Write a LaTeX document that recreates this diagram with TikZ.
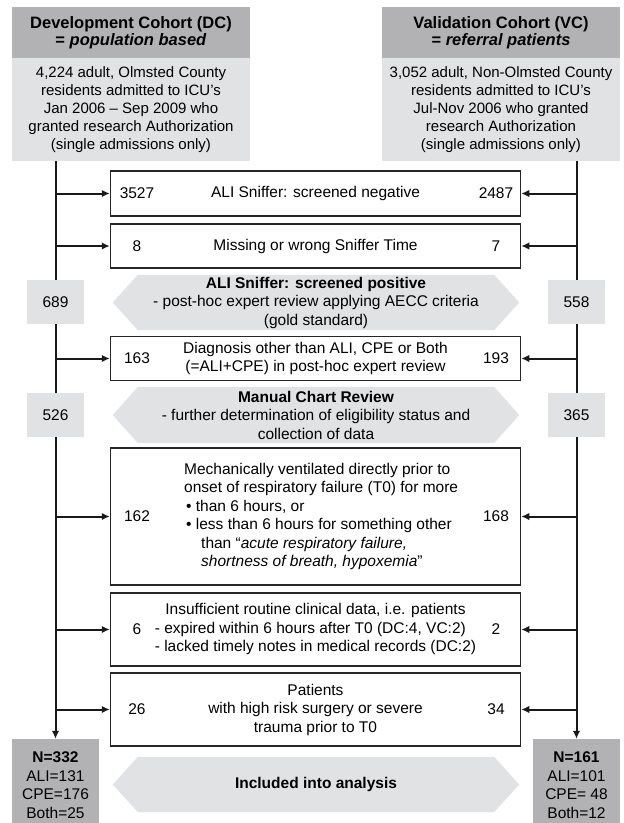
\documentclass[tikz,border=0pt]{standalone}
\usepackage{fontspec}
\setmainfont{Liberation Sans}
\usepackage{xcolor}
\usepackage{tikz}
\usetikzlibrary{arrows.meta, positioning, backgrounds}

\definecolor{hdrgrey}{RGB}{178,178,180}
\definecolor{lightgrey}{RGB}{225,226,228}

\tikzset{
  hdrtop/.style={fill=hdrgrey, minimum width=238pt, minimum height=51pt, inner sep=0pt,
    align=center, font=\bfseries\fontsize{16.5}{17}\selectfont},
  hdrbody/.style={fill=lightgrey, minimum width=238pt, minimum height=103pt, inner sep=0pt,
    align=center, font=\fontsize{15}{18}\selectfont},
  exbox/.style={draw=black!85, line width=1.5pt, minimum width=410pt, inner sep=0pt},
  numbox/.style={fill=lightgrey, minimum width=57pt, minimum height=44pt, inner sep=0pt},
  resbox/.style={fill=hdrgrey, minimum width=87pt, minimum height=92pt, inner sep=0pt, align=center},
  hextext/.style={minimum width=356pt, inner sep=0pt, align=center},
  flowline/.style={line width=2pt, black!90},
  flowarrow/.style={flowline, -{Latex[length=8pt, width=7.5pt]}},
}

\begin{document}
\begin{tikzpicture}[x=1pt, y=-1pt, font=\fontsize{15.5}{18.5}\selectfont]
  \path[use as bounding box] (0,0) rectangle (624,823);

  % Cohort headers
  \node[hdrtop] (dcTop) at (131,32.5) {Development Cohort (DC)\\= \textit{population based}};
  \node[hdrbody] (dcBody) at (131,109.5) {4,224 adult, Olmsted County\\residents admitted to ICU's\\Jan 2006 -- Sep 2009 who\\granted research Authorization\\(single admissions only)};
  \node[hdrtop] (vcTop) at (501,32.5) {Validation Cohort (VC)\\= \textit{referral patients}};
  \node[hdrbody] (vcBody) at (501,109.5) {3,052 adult, Non-Olmsted County\\residents admitted to ICU's\\Jul-Nov 2006 who granted\\research Authorization\\(single admissions only)};

  % Final counts
  \node[resbox] (resL) at (55.5,785) {\textbf{N=332}\\ALI=131\\CPE=176\\Both=25};
  \node[resbox] (resR) at (576.5,785) {\textbf{N=161}\\ALI=101\\CPE= 48\\Both=12};

  % Remaining counts on the side lines
  \node[numbox] (n689) at (55.5,302) {689};
  \node[numbox] (n526) at (55.5,415) {526};
  \node[numbox] (n558) at (576.5,302) {558};
  \node[numbox] (n365) at (576.5,415) {365};

  % Exclusion boxes with counts and arrows from both sides
  \foreach \bname/\ypos/\hgt/\nl/\nr in
    {b1/193.5/45/3527/2487, b2/246/44/8/7, b3/358.5/44/163/193,
     b4/516.5/137/162/168, b5/629.5/73/6/2, b6/709.5/73/26/34} {
    \node[exbox, minimum height=\hgt pt] (\bname) at (315.5,\ypos) {};
    \node[inner sep=0pt] (\bname-nl) at (137,\ypos) {\nl};
    \node[inner sep=0pt] (\bname-nr) at (496,\ypos) {\nr};
    \draw[flowarrow] (resL.north |- \bname.west) -- (\bname.west);
    \draw[flowarrow] (resR.north |- \bname.east) -- (\bname.east);
  }
  \node (t1) at (b1) {ALI Sniffer: screened negative};
  \node (t2) at (b2) {Missing or wrong Sniffer Time};
  \node[align=center] (t3) at (b3) {Diagnosis other than ALI, CPE or Both\\(=ALI+CPE) in post-hoc expert review};
  \node[align=left, anchor=west, inner sep=0pt] (t4) at (184,516.5)
    {Mechanically ventilated directly prior to\\onset of respiratory failure (T0) for more\\
     \hspace*{2pt}\textbullet\ than 6 hours, or\\
     \hspace*{2pt}\textbullet\ less than 6 hours for something other\\
     \hspace*{17pt}than “\textit{acute respiratory failure,}\\
     \hspace*{17pt}\textit{shortness of breath, hypoxemia}”};
  \node (t5) at (b5) {\begin{tabular}{@{}l@{}}
      \multicolumn{1}{@{}c@{}}{Insufficient routine clinical data, i.e. patients}\\
      - expired within 6 hours after T0 (DC:4, VC:2)\\
      - lacked timely notes in medical records (DC:2)
    \end{tabular}};
  \node[align=center] (t6) at (b6) {Patients\\with high risk surgery or severe\\trauma prior to T0};

  % Review steps and result band
  \node[hextext, minimum height=55pt] (hx1) at (316,302.5)
    {\textbf{ALI Sniffer: screened positive}\\- post-hoc expert review applying AECC criteria\\(gold standard)};
  \node[hextext, minimum height=56pt] (hx2) at (316,415)
    {\textbf{Manual Chart Review}\\- further determination of eligibility status and\\collection of data};
  \node[hextext, minimum height=55pt] (hx3) at (316,784.5) {\textbf{Included into analysis}};
  \begin{pgfonlayer}{background}
    \foreach \hx in {hx1, hx2, hx3} {
      \fill[lightgrey] (\hx.north west) -- (\hx.north east) -- ([xshift=25pt]\hx.east)
        -- (\hx.south east) -- (\hx.south west) -- ([xshift=-25pt]\hx.west) -- cycle;
    }
  \end{pgfonlayer}

  % Cohort flow lines
  \draw[flowline] (dcBody.south -| resL.north) -- (n689.north);
  \draw[flowline] (n689.south) -- (n526.north);
  \draw[flowarrow] (n526.south) -- (resL.north);
  \draw[flowline] (vcBody.south -| resR.north) -- (n558.north);
  \draw[flowline] (n558.south) -- (n365.north);
  \draw[flowarrow] (n365.south) -- (resR.north);
\end{tikzpicture}
\end{document}
